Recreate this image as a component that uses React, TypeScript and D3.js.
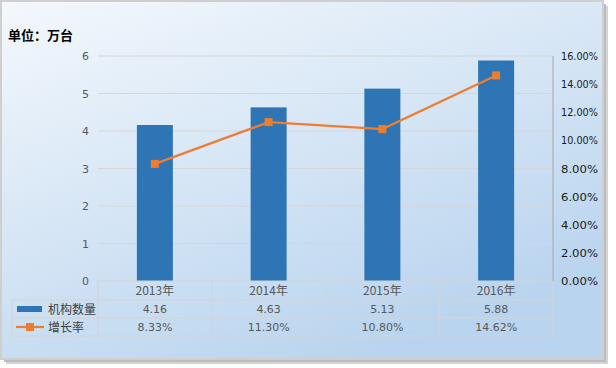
import { useEffect, useRef } from 'react';
import * as d3 from 'd3';

const years = ['2013年', '2014年', '2015年', '2016年'];
const counts = [4.16, 4.63, 5.13, 5.88];
const growth = [8.33, 11.3, 10.8, 14.62];
const countLabels = ['4.16', '4.63', '5.13', '5.88'];
const growthLabels = ['8.33%', '11.30%', '10.80%', '14.62%'];
const leftTicks = [0, 1, 2, 3, 4, 5, 6];
const rightTicks = [0, 2, 4, 6, 8, 10, 12, 14, 16];
const seriesNames = ['机构数量', '增长率'];

const W = 616;
const H = 368;
const cjk = '"Noto Sans CJK SC", "DejaVu Sans", sans-serif';
const num = '"DejaVu Sans", "Liberation Sans", sans-serif';

const App = () => {
  const ref = useRef<SVGSVGElement | null>(null);

  useEffect(() => {
    const svg = d3.select(ref.current);
    svg.selectAll('*').remove();

    const plot = { left: 98, right: 553, top: 56, bottom: 281 };

    // 背景渐变
    const defs = svg.append('defs');
    const grad = defs.append('linearGradient')
      .attr('id', 'bg').attr('x1', '0').attr('y1', '0').attr('x2', '0.6').attr('y2', '1');
    grad.append('stop').attr('offset', '0%').attr('stop-color', '#f4f8fd');
    grad.append('stop').attr('offset', '100%').attr('stop-color', '#b9d4ee');

    // 阴影
    svg.append('rect').attr('x', 6).attr('y', 6).attr('width', 602).attr('height', 358)
      .attr('fill', '#d4d4d4');
    svg.append('rect').attr('x', 4).attr('y', 4).attr('width', 602).attr('height', 358)
      .attr('fill', '#bdbdbd');
    svg.append('rect').attr('x', 1).attr('y', 1).attr('width', 602).attr('height', 358)
      .attr('fill', 'url(#bg)').attr('stroke', '#cfcfcf').attr('stroke-width', 2);

    const x = d3.scaleBand().domain(years).range([plot.left, plot.right]);
    const y = d3.scaleLinear().domain([0, 6]).range([plot.bottom, plot.top]);
    const y2 = d3.scaleLinear().domain([0, 16]).range([plot.bottom, plot.top]);

    // 网格线
    svg.append('g').selectAll('line').data(leftTicks.filter(d => d > 0)).join('line')
      .attr('x1', plot.left).attr('x2', plot.right)
      .attr('y1', d => y(d)).attr('y2', d => y(d))
      .attr('stroke', '#d6d6d6').attr('stroke-width', 1);

    svg.append('g').selectAll('text').data(leftTicks).join('text')
      .attr('x', 89).attr('y', d => y(d) + 4)
      .attr('text-anchor', 'end')
      .attr('font-family', num).attr('font-size', 11).attr('fill', '#595959')
      .text(d => d);

    // 右轴
    svg.append('line').attr('x1', plot.right).attr('x2', plot.right)
      .attr('y1', plot.top).attr('y2', plot.bottom)
      .attr('stroke', '#a6a6a6').attr('stroke-width', 1);
    svg.append('g').selectAll('text').data(rightTicks).join('text')
      .attr('x', 561).attr('y', d => y2(d) + 4)
      .attr('font-family', num).attr('font-size', 11).attr('fill', '#1a1a1a')
      .attr('textLength', 37).attr('lengthAdjust', 'spacingAndGlyphs')
      .text(d => d.toFixed(2) + '%');

    // 柱子
    const bw = 36;
    svg.append('g').selectAll('rect').data(counts).join('rect')
      .attr('x', (d, i) => x(years[i])! + x.bandwidth() / 2 - bw / 2)
      .attr('y', d => y(d))
      .attr('width', bw)
      .attr('height', d => plot.bottom - y(d))
      .attr('fill', '#2e75b6');

    // 折线
    const line = d3.line<number>()
      .x((d, i) => x(years[i])! + x.bandwidth() / 2)
      .y(d => y2(d));
    svg.append('path').datum(growth)
      .attr('d', line)
      .attr('fill', 'none').attr('stroke', '#ed7d31').attr('stroke-width', 2.25);
    svg.append('g').selectAll('rect').data(growth).join('rect')
      .attr('x', (d, i) => x(years[i])! + x.bandwidth() / 2 - 4)
      .attr('y', d => y2(d) - 4)
      .attr('width', 8).attr('height', 8)
      .attr('fill', '#ed7d31');

    // 数据表
    const rows = [281, 300, 318, 336];
    const tbl = svg.append('g').attr('stroke', '#d4d4d4').attr('stroke-width', 1.2);
    tbl.append('line').attr('x1', plot.left).attr('x2', plot.right).attr('y1', rows[0]).attr('y2', rows[0]);
    rows.slice(1).forEach(r => {
      tbl.append('line').attr('x1', 12).attr('x2', plot.right).attr('y1', r).attr('y2', r);
    });
    tbl.append('line').attr('x1', 12).attr('x2', 12).attr('y1', rows[1]).attr('y2', rows[3]);
    const cols = years.map(c => x(c)!).concat([plot.right]);
    cols.forEach(c => {
      tbl.append('line').attr('x1', c).attr('x2', c).attr('y1', rows[0]).attr('y2', rows[3]);
    });

    const cellText = (labels: string[], row: number, font: string, size: number) => {
      svg.append('g').selectAll('text').data(labels).join('text')
        .attr('x', (d, i) => x(years[i])! + x.bandwidth() / 2)
        .attr('y', (rows[row] + rows[row + 1]) / 2 + 4)
        .attr('text-anchor', 'middle')
        .attr('font-family', font).attr('font-size', size).attr('fill', '#595959')
        .text(d => d);
    };
    cellText(years, 0, cjk, 12);
    cellText(countLabels, 1, num, 11);
    cellText(growthLabels, 2, num, 11);

    // 图例
    svg.append('rect').attr('x', 17).attr('y', 306).attr('width', 25).attr('height', 6)
      .attr('fill', '#2e75b6');
    svg.append('line').attr('x1', 16).attr('x2', 44).attr('y1', 327).attr('y2', 327)
      .attr('stroke', '#ed7d31').attr('stroke-width', 2.25);
    svg.append('rect').attr('x', 26).attr('y', 323).attr('width', 8).attr('height', 8)
      .attr('fill', '#ed7d31');
    svg.append('g').selectAll('text').data(seriesNames).join('text')
      .attr('x', 48).attr('y', (d, i) => (rows[i + 1] + rows[i + 2]) / 2 + 4.5)
      .attr('font-family', cjk).attr('font-size', 12).attr('fill', '#404040')
      .text(d => d);

    // 单位
    svg.append('text').attr('x', 8).attr('y', 40)
      .attr('font-family', cjk).attr('font-size', 13).attr('font-weight', 'bold')
      .attr('fill', '#000')
      .text('单位：万台');
  }, []);

  return (
    <svg ref={ref} width={W} height={H}
      style={{ position: 'absolute', left: 0, top: 0, display: 'block', background: '#fff' }} />
  );
};

export default App;
